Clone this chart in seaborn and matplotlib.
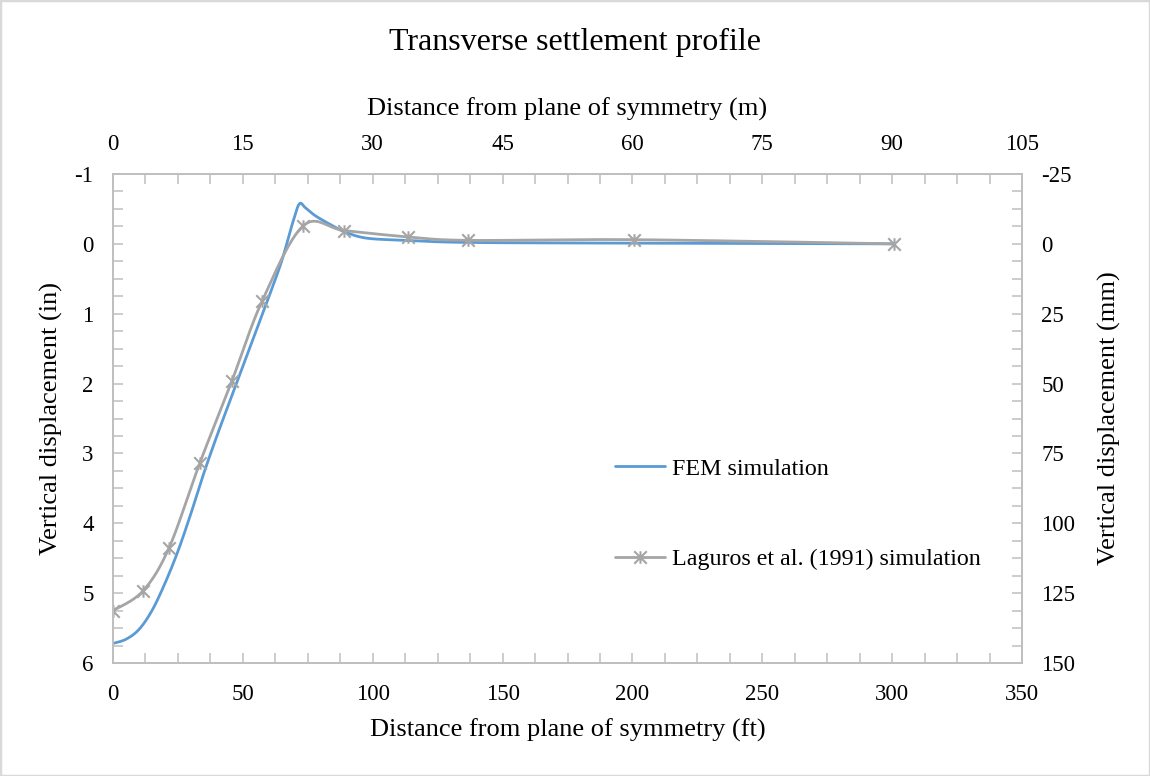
import numpy as np
import matplotlib
matplotlib.use("Agg")
import matplotlib.pyplot as plt
from matplotlib.path import Path
from matplotlib.lines import Line2D
from matplotlib.patches import Rectangle
from matplotlib.ticker import MultipleLocator
import seaborn as sns

# FEM settlement profile (distance in ft, displacement in inches; positive = settlement)
fem_x_ft = [0, 5, 10, 15, 20, 25, 30, 35, 40, 45, 50, 55, 60, 65, 69, 71.7,
            74, 78, 85, 90, 98, 113, 137, 200, 300]
fem_y_in = [5.72, 5.66, 5.52, 5.25, 4.86, 4.40, 3.86, 3.28, 2.75, 2.25, 1.75,
            1.25, 0.76, 0.24, -0.28, -0.57, -0.52, -0.40, -0.25, -0.16, -0.08,
            -0.05, -0.02, -0.01, 0.0]

# Laguros et al. (1991) simulated profile
lag_x_ft = [0, 11.5, 21.6, 33.5, 45.8, 57.4, 73.3, 89.1, 113.4, 136.8, 200.7, 300.7]
lag_y_in = [5.25, 4.97, 4.35, 3.13, 1.96, 0.82, -0.26, -0.19, -0.10, -0.05, -0.06, 0.0]

x_ft_ticks = list(range(0, 351, 50))
x_m_ticks = list(range(0, 106, 15))
y_in_ticks = list(range(-1, 7))
y_mm_ticks = list(range(-25, 151, 25))

BLUE = "#5B9BD5"
GRAY = "#A5A5A5"
AXIS = "#BFBFBF"


def smooth_path(xs, ys, steps=30):
    """Spreadsheet-style smoothed line: cubic Bezier pieces with Catmull-Rom tangents."""
    p = np.column_stack([xs, ys]).astype(float)
    ext = np.vstack([p[0], p, p[-1]])
    t = np.linspace(0, 1, steps)[:, None]
    pieces = []
    for i in range(len(p) - 1):
        p0, p1, p2, p3 = ext[i], ext[i + 1], ext[i + 2], ext[i + 3]
        c1 = p1 + (p2 - p0) / 6.0
        c2 = p2 - (p3 - p1) / 6.0
        b = ((1 - t) ** 3) * p1 + 3 * ((1 - t) ** 2) * t * c1 \
            + 3 * (1 - t) * (t ** 2) * c2 + (t ** 3) * p2
        pieces.append(b if i == 0 else b[1:])
    out = np.vstack(pieces)
    return out[:, 0], out[:, 1]


sns.set_theme(style="white")
plt.rcParams["font.family"] = ["Liberation Serif", "DejaVu Serif"]
plt.rcParams["axes.unicode_minus"] = False
plt.rcParams["text.color"] = "black"
plt.rcParams["axes.labelcolor"] = "black"

TICK_FS = 16.5
LABEL_FS = 19
LEGEND_FS = 17.3
LW = 2.0

fig = plt.figure(figsize=(11.5, 7.76), dpi=100)
ax = fig.add_axes([113 / 1150, 1 - 663 / 776, 909 / 1150, 489 / 776])

fx, fy = smooth_path(fem_x_ft, fem_y_in)
lx, ly = smooth_path(lag_x_ft, lag_y_in)
sns.lineplot(x=fx, y=fy, sort=False, estimator=None, ax=ax, color=BLUE, lw=LW)
sns.lineplot(x=lx, y=ly, sort=False, estimator=None, ax=ax, color=GRAY, lw=LW)

asterisk = Path([(-1, -1), (1, 1), (-1, 1), (1, -1), (0, -1), (0, 1)],
                [Path.MOVETO, Path.LINETO] * 3)
ax.plot(lag_x_ft, lag_y_in, linestyle="none", marker=asterisk, ms=9,
        mew=1.5, mec=GRAY, mfc="none")

ax.set_xlim(0, 350)
ax.set_ylim(6, -1)
ax.set_xticks(x_ft_ticks)
ax.set_yticks(y_in_ticks)
ax.xaxis.set_minor_locator(MultipleLocator(12.5))
ax.yaxis.set_minor_locator(MultipleLocator(0.25))

ax_top = ax.twiny()
ax_top.set_xlim(0, 105)
ax_top.set_xticks(x_m_ticks)
ax_top.xaxis.set_minor_locator(MultipleLocator(3.75))

ax_right = ax.twinx()
ax_right.set_ylim(150, -25)
ax_right.set_yticks(y_mm_ticks)
ax_right.yaxis.set_minor_locator(MultipleLocator(6.25))

for a in (ax, ax_top, ax_right):
    for s in a.spines.values():
        s.set_color(AXIS)
        s.set_linewidth(1.3)
    a.grid(False)

tick_kw = dict(direction="in", length=7, width=1.1, color=AXIS,
               labelsize=TICK_FS, labelcolor="black")
ax.tick_params(axis="both", which="both", top=False, right=False, **tick_kw)
ax.tick_params(axis="x", which="major", pad=15)
ax.tick_params(axis="y", which="major", pad=14)
ax_top.tick_params(axis="x", which="both", top=True, bottom=False, **tick_kw)
ax_top.tick_params(axis="x", which="major", pad=14)
ax_right.tick_params(axis="y", which="both", right=True, left=False, **tick_kw)
ax_right.tick_params(axis="y", which="major", pad=14)

ax.set_xlabel("Distance from plane of symmetry (ft)", fontsize=LABEL_FS, labelpad=10)
ax.set_ylabel("Vertical displacement (in)", fontsize=LABEL_FS, labelpad=8)
ax_top.set_xlabel("Distance from plane of symmetry (m)", fontsize=LABEL_FS, labelpad=13)
ax_right.set_ylabel("Vertical displacement (mm)", fontsize=LABEL_FS, labelpad=16)

fig.text(0.5, 1 - 42 / 776, "Transverse settlement profile", ha="center",
         va="center", fontsize=23)

handles = [
    Line2D([], [], color=BLUE, lw=LW),
    Line2D([], [], color=GRAY, lw=LW, marker=asterisk, ms=9, mew=1.5,
           mec=GRAY, mfc="none"),
]
ax.legend(handles, ["FEM simulation", "Laguros et al. (1991) simulation"],
          loc="center left", bbox_to_anchor=((615 - 113) / 909, (663 - 514) / 489),
          frameon=False, fontsize=LEGEND_FS, handlelength=2.08, handletextpad=0.3,
          labelspacing=2.85, borderpad=0, borderaxespad=0)

fig.patches.append(Rectangle((0, 0), 1, 1, transform=fig.transFigure,
                             fill=False, edgecolor="#D9D9D9", lw=2.5))

fig.savefig("out.png", dpi=100, facecolor="white")
